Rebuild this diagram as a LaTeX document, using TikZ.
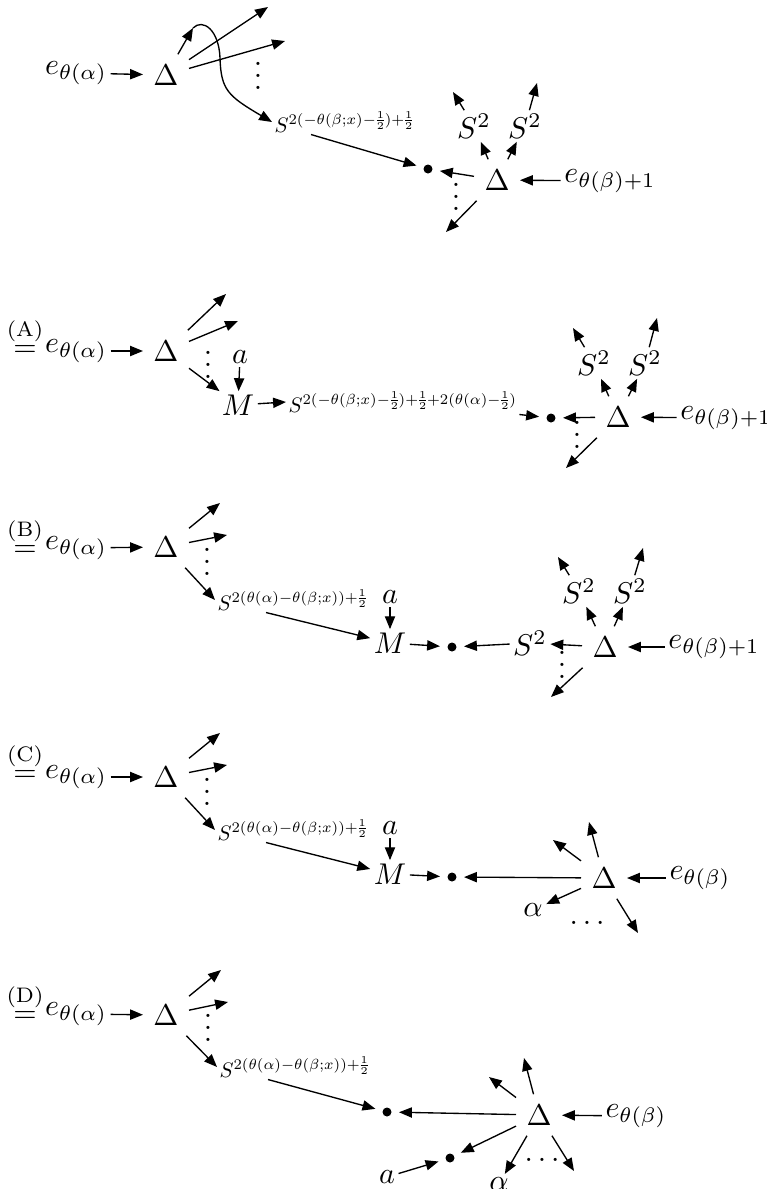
\documentclass[tikz,border=0pt]{standalone}
\usetikzlibrary{arrows.meta}
\newcommand\Sx[1]{\nulldelimiterspace=0.4pt $S^{#1}$}
\begin{document}
\begin{tikzpicture}[x=0.33333pt,y=-0.33333pt,
  arr/.style={-{Triangle[length=4.3pt,width=3.4pt]},line width=0.45pt},
  lab/.style={inner sep=1pt},
  dl/.style={inner sep=2.5pt,outer sep=1pt},
  bul/.style={circle,fill,inner sep=0pt,minimum size=3pt,outer sep=2.5pt},
  expr/.style={inner sep=1pt,anchor=base west,scale=0.7},
  dts/.style={inner sep=0pt,anchor=base},
  eqn/.style={inner sep=0pt,anchor=base}]
\useasboundingbox (0,0) rectangle (766,1189);
\clip (0,0) rectangle (766,1189);

% ---------------- top diagram ----------------
\node[lab] (e1) at (76,73) {$e_{\theta(\alpha)}$};
\node[dl] (D1) at (166,75) {$\Delta$};
\node[expr] (S1) at (272,132) {\Sx{2(-\theta(\beta;x)-\frac{1}{2})+\frac{1}{2}}};
\node[bul] (b1) at (428,169) {};
\node[dl] (D2) at (497,180) {$\Delta$};
\node[lab] (e2) at (610,181) {$e_{\theta(\beta)+1}$};
\node[lab] (s1a) at (474,126) {$S^2$};
\node[lab] (s1b) at (525,126) {$S^2$};
\node[dts] (v1) at (258,89.6) {$\vdots$};
\node[dts] (v2) at (456,210) {$\vdots$};
\coordinate (c1a) at (193,28);
\coordinate (c1b) at (268,7);
\coordinate (c1c) at (285,41);
\coordinate (c2a) at (453,92);
\coordinate (c2b) at (537,83);
\coordinate (c2c) at (446,232);
\draw[arr] (e1) -- (D1);
\draw[arr] (D1) -- (c1a);
\draw[arr] (D1) -- (c1b);
\draw[arr] (D1) -- (c1c);
\draw[arr] (c1a) .. controls (203,18) and (219,30) .. (220,58) .. controls (221,90) and (228,96) .. (S1.west);
\draw[arr] ([xshift=13pt]S1.south west) -- (b1);
\draw[arr] (D2) -- (b1);
\draw[arr] (e2) -- (D2);
\draw[arr] (D2) -- (s1a);
\draw[arr] (D2) -- (s1b);
\draw[arr] (s1a) -- (c2a);
\draw[arr] (s1b) -- (c2b);
\draw[arr] (D2) -- (c2c);

% ---------------- (A) ----------------
\node[eqn] (qA) at (25,356) {$\stackrel{\mathrm{(A)}}{=}$};
\node[lab] (eA) at (76,351) {$e_{\theta(\alpha)}$};
\node[dl] (DA1) at (166,351) {$\Delta$};
\node[lab] (aA) at (240,357) {$a$};
\node[lab] (MA) at (238,405) {$M$};
\node[expr] (SA) at (286,412) {\Sx{2(-\theta(\beta;x)-\frac{1}{2})+\frac{1}{2}+2(\theta(\alpha)-\frac{1}{2})}};
\node[bul] (bA) at (551,418) {};
\node[dl] (DA2) at (618,417) {$\Delta$};
\node[lab] (eA2) at (726,418) {$e_{\theta(\beta)+1}$};
\node[lab] (sAa) at (594,363) {$S^2$};
\node[lab] (sAb) at (645,363) {$S^2$};
\node[dts] (vA1) at (208,378.6) {$\vdots$};
\node[dts] (vA2) at (577,448.6) {$\vdots$};
\coordinate (cA1) at (226,294);
\coordinate (cA2) at (238,321);
\coordinate (cA3) at (573,328);
\coordinate (cA4) at (657,318);
\coordinate (cA5) at (566,468);
\draw[arr] (eA) -- (DA1);
\draw[arr] (DA1) -- (cA1);
\draw[arr] (DA1) -- (cA2);
\draw[arr] (DA1) -- (MA);
\draw[arr] (aA) -- (MA);
\draw[arr] (MA) -- (SA.west);
\draw[arr] (SA.south east) -- (bA);
\draw[arr] (DA2) -- (bA);
\draw[arr] (eA2) -- (DA2);
\draw[arr] (DA2) -- (sAa);
\draw[arr] (DA2) -- (sAb);
\draw[arr] (sAa) -- (cA3);
\draw[arr] (sAb) -- (cA4);
\draw[arr] (DA2) -- (cA5);

% ---------------- (B) ----------------
\node[eqn] (qB) at (25,556) {$\stackrel{\mathrm{(B)}}{=}$};
\node[lab] (eB) at (76,548) {$e_{\theta(\alpha)}$};
\node[dl] (DB1) at (166,547) {$\Delta$};
\node[expr] (SB) at (215,610) {\Sx{2(\theta(\alpha)-\theta(\beta;x))+\frac{1}{2}}};
\node[lab] (aB) at (390,597) {$a$};
\node[lab] (MB) at (390,643) {$M$};
\node[bul] (bB) at (452,647) {};
\node[lab] (sBm) at (530,643) {$S^2$};
\node[dl] (DB2) at (605,647) {$\Delta$};
\node[lab] (eB2) at (714,647) {$e_{\theta(\beta)+1}$};
\node[lab] (sBl) at (579,591) {$S^2$};
\node[lab] (sBr) at (630,591) {$S^2$};
\node[dts] (vB1) at (207,575.6) {$\vdots$};
\node[dts] (vB2) at (562,678.6) {$\vdots$};
\coordinate (cB1) at (220,503);
\coordinate (cB2) at (227,535);
\coordinate (cB3) at (558,557);
\coordinate (cB4) at (643,548);
\coordinate (cB5) at (551,697);
\draw[arr] (eB) -- (DB1);
\draw[arr] (DB1) -- (cB1);
\draw[arr] (DB1) -- (cB2);
\draw[arr] (DB1) -- (SB.west);
\draw[arr] ([xshift=17pt]SB.south west) -- (MB);
\draw[arr] (aB) -- (MB);
\draw[arr] (MB) -- (bB);
\draw[arr] (sBm) -- (bB);
\draw[arr] (DB2) -- (sBm);
\draw[arr] (eB2) -- (DB2);
\draw[arr] (DB2) -- (sBl);
\draw[arr] (DB2) -- (sBr);
\draw[arr] (sBl) -- (cB3);
\draw[arr] (sBr) -- (cB4);
\draw[arr] (DB2) -- (cB5);

% ---------------- (C) ----------------
\node[eqn] (qC) at (25,781) {$\stackrel{\mathrm{(C)}}{=}$};
\node[lab] (eC) at (76,777) {$e_{\theta(\alpha)}$};
\node[dl] (DC1) at (166,777) {$\Delta$};
\node[expr] (SC) at (215,840) {\Sx{2(\theta(\alpha)-\theta(\beta;x))+\frac{1}{2}}};
\node[lab] (aC) at (390,828) {$a$};
\node[lab] (MC) at (390,874) {$M$};
\node[bul] (bC) at (452,877) {};
\node[dl] (DC2) at (604,878) {$\Delta$};
\node[lab] (eC2) at (700,878) {$e_{\theta(\beta)}$};
\node[lab] (alC) at (533,910) {$\alpha$};
\node[dts] (vC) at (207,805) {$\vdots$};
\node[dts] (lC) at (587,924.6) {$\ldots$};
\coordinate (cC1) at (220,733);
\coordinate (cC2) at (227,765);
\coordinate (cC3) at (553,840);
\coordinate (cC4) at (589,822);
\coordinate (cC5) at (638,933);
\draw[arr] (eC) -- (DC1);
\draw[arr] (DC1) -- (cC1);
\draw[arr] (DC1) -- (cC2);
\draw[arr] (DC1) -- (SC.west);
\draw[arr] ([xshift=17pt]SC.south west) -- (MC);
\draw[arr] (aC) -- (MC);
\draw[arr] (MC) -- (bC);
\draw[arr] (DC2) -- (bC);
\draw[arr] (eC2) -- (DC2);
\draw[arr] (DC2) -- (cC3);
\draw[arr] (DC2) -- (cC4);
\draw[arr] (DC2) -- (alC);
\draw[arr] (DC2) -- (cC5);

% ---------------- (D) ----------------
\node[eqn] (qD) at (25,1022) {$\stackrel{\mathrm{(D)}}{=}$};
\node[lab] (eD) at (76,1014) {$e_{\theta(\alpha)}$};
\node[dl] (DD1) at (166,1015) {$\Delta$};
\node[expr] (SD) at (217,1077) {\Sx{2(\theta(\alpha)-\theta(\beta;x))+\frac{1}{2}}};
\node[bul] (bD1) at (387,1112) {};
\node[dl] (DD2) at (539,1115) {$\Delta$};
\node[lab] (eD2) at (636,1116) {$e_{\theta(\beta)}$};
\node[bul] (bD2) at (450,1158) {};
\node[lab] (aD) at (387,1177) {$a$};
\node[lab] (alD) at (499,1184) {$\alpha$};
\node[dts] (vD) at (208,1041) {$\vdots$};
\node[dts] (lD) at (542,1161.6) {$\ldots$};
\coordinate (cD1) at (221,970);
\coordinate (cD2) at (228,1002);
\coordinate (cD3) at (489,1077);
\coordinate (cD4) at (524,1058);
\coordinate (cD5) at (574,1171);
\draw[arr] (eD) -- (DD1);
\draw[arr] (DD1) -- (cD1);
\draw[arr] (DD1) -- (cD2);
\draw[arr] (DD1) -- (SD.west);
\draw[arr] ([xshift=17pt]SD.south west) -- (bD1);
\draw[arr] (DD2) -- (bD1);
\draw[arr] (eD2) -- (DD2);
\draw[arr] (DD2) -- (cD3);
\draw[arr] (DD2) -- (cD4);
\draw[arr] (DD2) -- (bD2);
\draw[arr] (aD) -- (bD2);
\draw[arr] (DD2) -- (alD);
\draw[arr] (DD2) -- (cD5);
\end{tikzpicture}
\end{document}
